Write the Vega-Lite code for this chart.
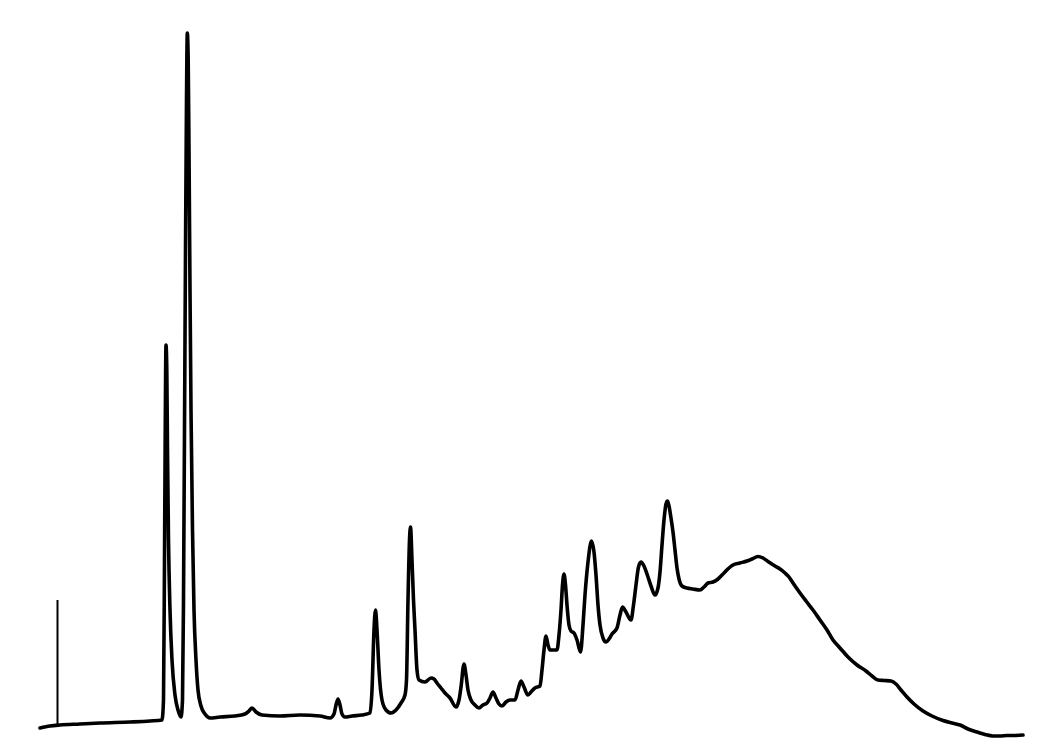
{
  "$schema": "https://vega.github.io/schema/vega-lite/v6.json",
  "width": 1061,
  "height": 752,
  "autosize": {"type": "fit", "contains": "padding"},
  "padding": 0,
  "background": "white",
  "config": {"view": {"stroke": null}},
  "layer": [
    {
      "data": {"values": [
        {"t":40,"s":24},{"t":50,"s":26},{"t":60,"s":27},{"t":80,"s":28},{"t":100,"s":29},{"t":130,"s":30},{"t":150,"s":31},{"t":162,"s":32},
        {"t":163.5,"s":52},{"t":164.5,"s":192},{"t":165.3,"s":332},{"t":166,"s":407},{"t":166.8,"s":382},{"t":167.5,"s":302},{"t":168.5,"s":212},{"t":170,"s":142},{"t":172,"s":92},{"t":175,"s":57},{"t":178,"s":42},{"t":181,"s":35},
        {"t":182.5,"s":52},{"t":183.5,"s":152},{"t":184.5,"s":322},{"t":185.5,"s":502},{"t":186.5,"s":652},{"t":187.3,"s":719},{"t":188.2,"s":692},{"t":189,"s":602},{"t":190,"s":462},{"t":191,"s":342},{"t":192.5,"s":222},{"t":194,"s":142},{"t":196,"s":92},{"t":198,"s":62},{"t":201,"s":46},{"t":205,"s":38},{"t":210,"s":34},
        {"t":220,"s":35},{"t":235,"s":36},{"t":245,"s":38},{"t":249,"s":41},{"t":252,"s":44},{"t":256,"s":40},{"t":262,"s":37},{"t":280,"s":36},{"t":300,"s":37},{"t":320,"s":36},{"t":330,"s":34},
        {"t":334,"s":38},{"t":336,"s":47},{"t":338,"s":53},{"t":340,"s":47},{"t":342,"s":38},{"t":345,"s":35},{"t":352,"s":36},{"t":362,"s":37},{"t":370,"s":39},
        {"t":372,"s":62},{"t":374,"s":122},{"t":375.5,"s":142},{"t":377,"s":122},{"t":379,"s":82},{"t":382,"s":52},{"t":386,"s":42},{"t":391,"s":39},{"t":396,"s":42},{"t":401,"s":49},{"t":405,"s":57},
        {"t":406.5,"s":72},{"t":408,"s":152},{"t":409.5,"s":212},{"t":410.5,"s":225},{"t":412,"s":192},{"t":413.5,"s":152},{"t":415,"s":122},{"t":417,"s":82},{"t":419,"s":72},
        {"t":425,"s":70},{"t":431,"s":74},{"t":434,"s":73},{"t":437,"s":69},{"t":441,"s":64},{"t":445,"s":59},{"t":450,"s":54},{"t":456,"s":45},
        {"t":459,"s":52},{"t":461,"s":65},{"t":464,"s":88},{"t":466,"s":77},{"t":468,"s":62},{"t":471,"s":52},{"t":475,"s":47},{"t":479,"s":44},{"t":483,"s":47},{"t":487,"s":49},
        {"t":490,"s":54},{"t":493,"s":60},{"t":496,"s":54},{"t":499,"s":48},{"t":502,"s":46},{"t":506,"s":50},{"t":510,"s":52},{"t":515,"s":52},
        {"t":518,"s":62},{"t":521,"s":71},{"t":524,"s":65},{"t":528,"s":57},{"t":531,"s":60},{"t":535,"s":64},{"t":540,"s":66},
        {"t":542,"s":82},{"t":544,"s":102},{"t":546,"s":116},{"t":548,"s":107},{"t":550,"s":102},{"t":554,"s":102},{"t":557,"s":102},
        {"t":559,"s":117},{"t":561,"s":142},{"t":562.5,"s":167},{"t":564,"s":178},{"t":565.5,"s":167},{"t":567,"s":147},{"t":569,"s":127},{"t":571,"s":121},{"t":574,"s":119},{"t":577,"s":112},{"t":580.5,"s":100},
        {"t":583,"s":127},{"t":585,"s":157},{"t":588,"s":190},{"t":591.5,"s":211},{"t":594,"s":200},{"t":596,"s":177},{"t":598,"s":147},{"t":600,"s":127},{"t":603,"s":114},{"t":606,"s":110},
        {"t":609,"s":113},{"t":612,"s":118},{"t":617,"s":124},{"t":620,"s":137},{"t":622.5,"s":145},{"t":626,"s":140},{"t":631,"s":132},
        {"t":633.5,"s":147},{"t":636,"s":167},{"t":638.5,"s":185},{"t":641,"s":190},{"t":644,"s":186},{"t":647,"s":178},{"t":651,"s":166},{"t":655,"s":157},
        {"t":658,"s":164},{"t":660,"s":180},{"t":662,"s":207},{"t":664,"s":232},{"t":666,"s":248},{"t":667.5,"s":251},{"t":669,"s":246},{"t":671,"s":234},{"t":673,"s":220},{"t":675,"s":202},{"t":677,"s":184},{"t":679,"s":173},
        {"t":682,"s":166},{"t":687,"s":164},{"t":693,"s":163},{"t":700,"s":162},{"t":704,"s":165},{"t":708,"s":169},{"t":713,"s":170},{"t":718,"s":173},{"t":724,"s":179},{"t":729,"s":184},{"t":733,"s":187},
        {"t":740,"s":189},{"t":747,"s":191},{"t":752,"s":193},{"t":758,"s":195.5},{"t":763,"s":194},{"t":768,"s":190.5},{"t":775,"s":186},{"t":780,"s":183},{"t":785,"s":179},{"t":789,"s":175},
        {"t":793,"s":169},{"t":800,"s":159},{"t":806,"s":151},{"t":813,"s":142},{"t":820,"s":132},{"t":827,"s":122},{"t":833,"s":112},{"t":840,"s":104},{"t":848,"s":95},{"t":857,"s":87},
        {"t":866,"s":81},{"t":872,"s":76},{"t":878,"s":72},{"t":884,"s":71.5},{"t":891,"s":71},{"t":896,"s":68},{"t":901,"s":62},{"t":907,"s":55},{"t":914,"s":48},{"t":923,"s":41},
        {"t":932,"s":36},{"t":943,"s":31.5},{"t":952,"s":29},{"t":960,"s":27},{"t":968,"s":23},{"t":977,"s":20},{"t":985,"s":17.5},{"t":993,"s":16},{"t":1000,"s":16},{"t":1007,"s":16.5},{"t":1015,"s":16.5},{"t":1023,"s":17}
      ]},
      "mark": {"type": "line", "color": "black", "strokeWidth": 3.6, "interpolate": "monotone", "strokeJoin": "round", "strokeCap": "round"},
      "encoding": {
        "x": {"field": "t", "type": "quantitative", "scale": {"domain": [0, 1061], "nice": false, "zero": false}, "axis": null},
        "y": {"field": "s", "type": "quantitative", "scale": {"domain": [0, 752], "nice": false, "zero": false}, "axis": null}
      }
    },
    {
      "data": {"values": [{"t": 57.5, "s0": 27, "s1": 152}]},
      "mark": {"type": "rule", "color": "black", "strokeWidth": 2},
      "encoding": {
        "x": {"field": "t", "type": "quantitative", "scale": {"domain": [0, 1061], "nice": false, "zero": false}, "axis": null},
        "y": {"field": "s0", "type": "quantitative", "scale": {"domain": [0, 752], "nice": false, "zero": false}, "axis": null},
        "y2": {"field": "s1"}
      }
    }
  ]
}
